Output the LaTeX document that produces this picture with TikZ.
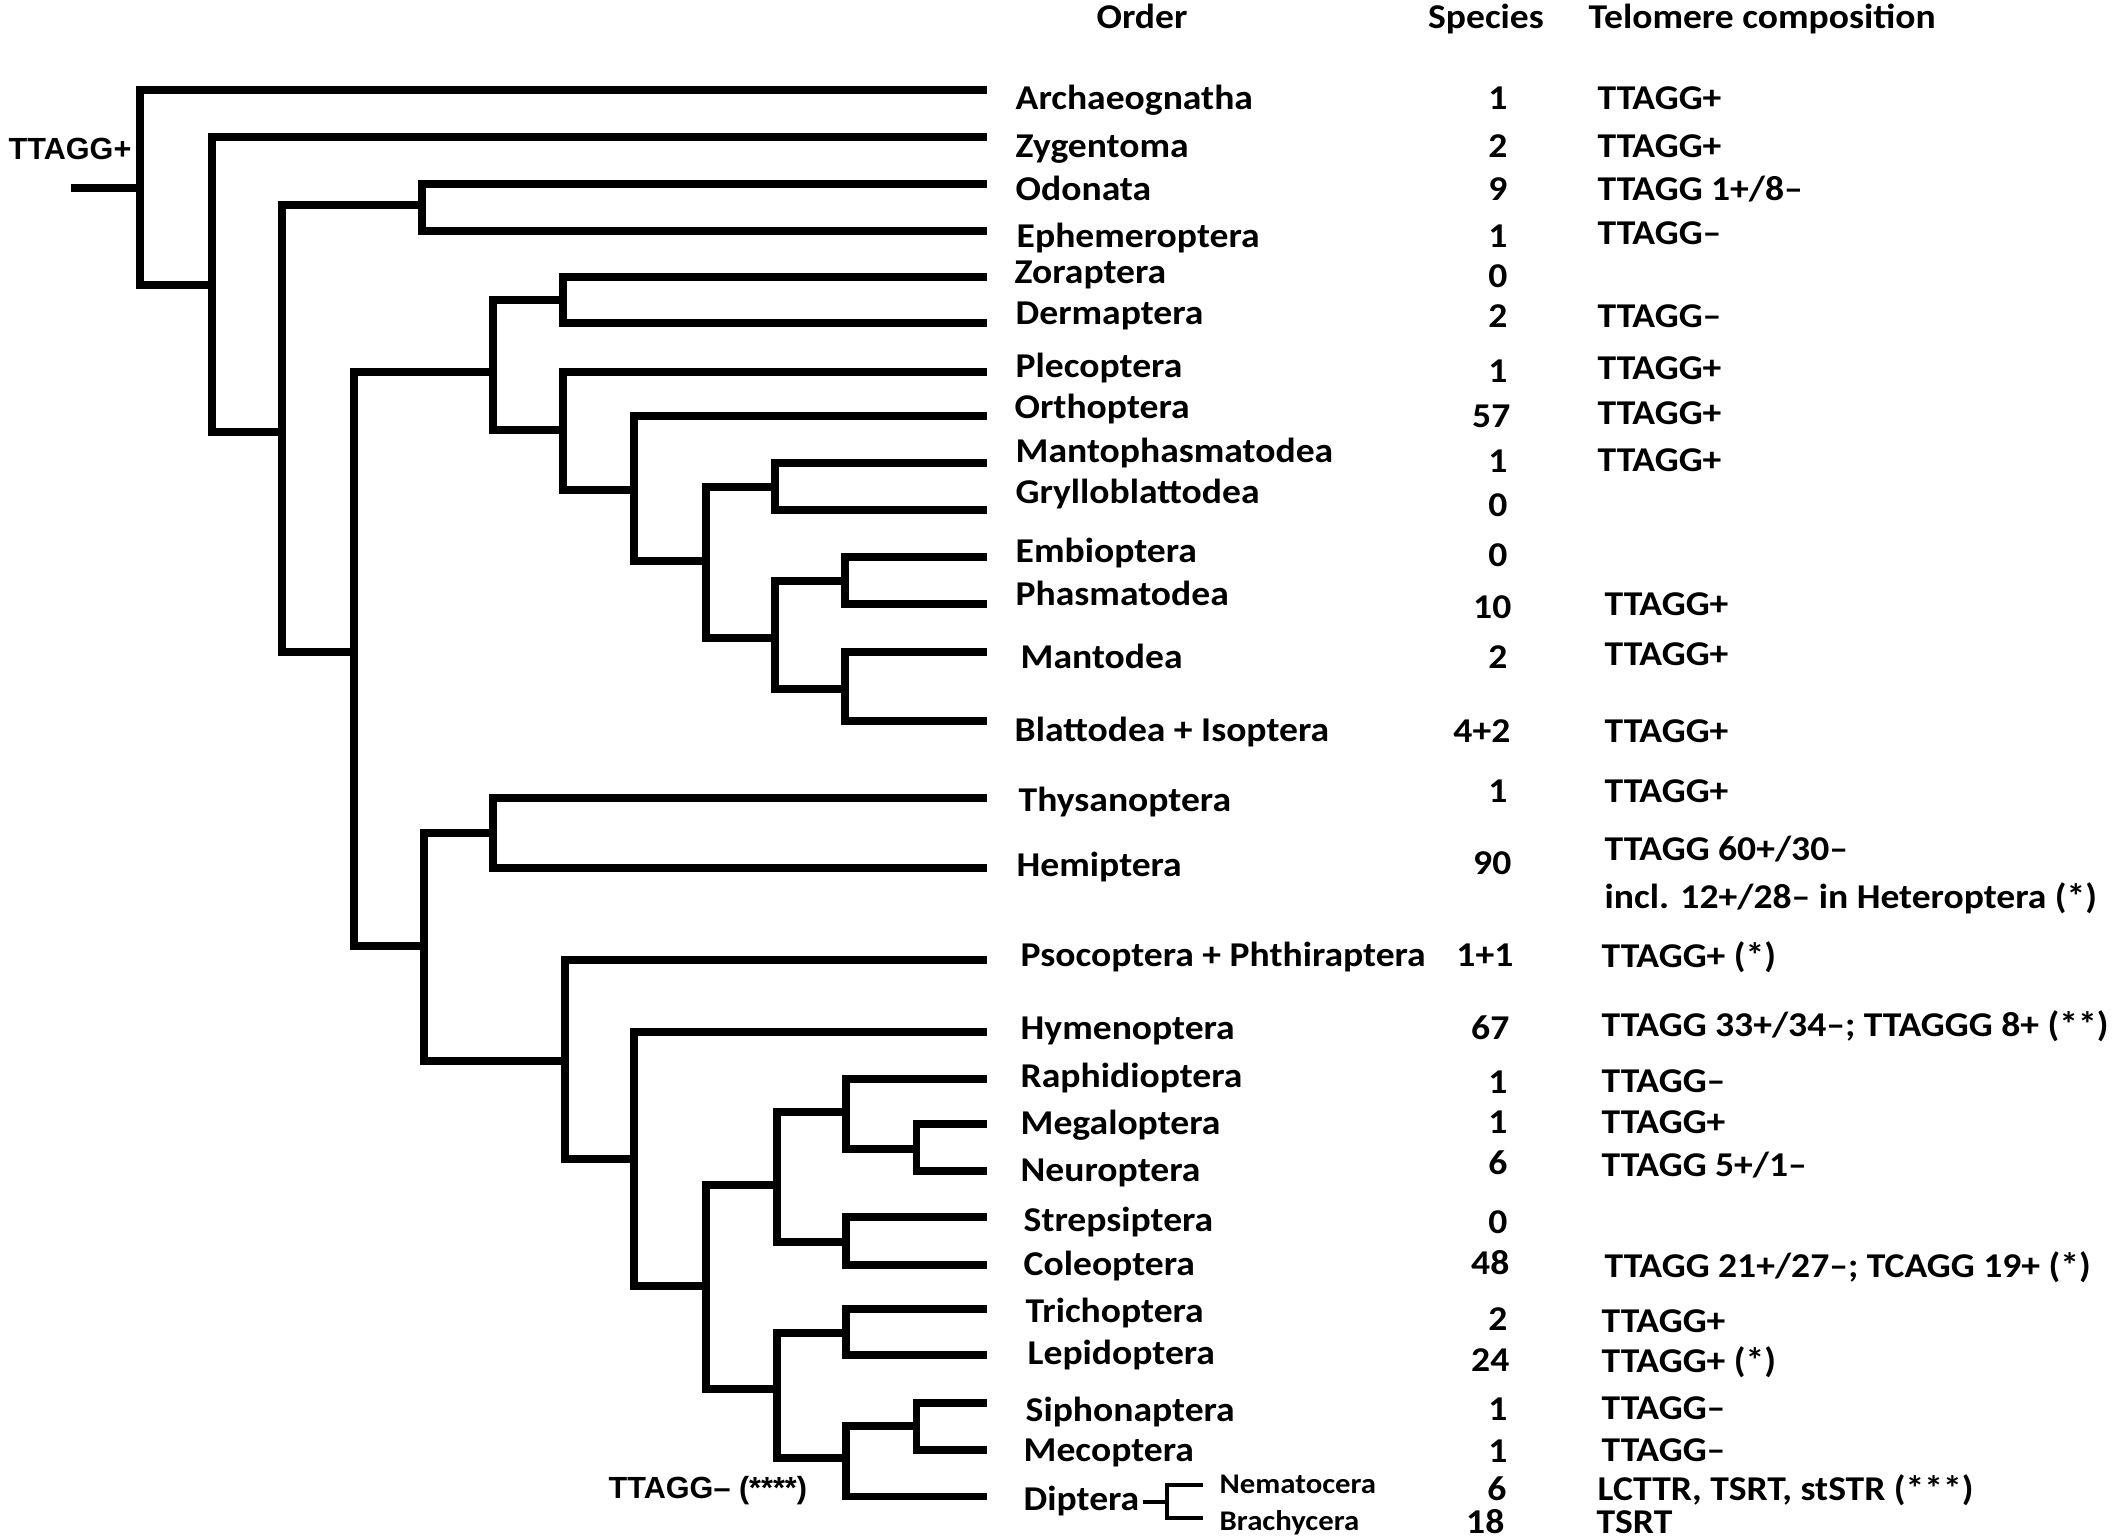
\documentclass[tikz,border=0pt]{standalone}
\usepackage{fontspec}
\setmainfont{Carlito}[FakeStretch=1.08]
\newfontfamily\statefont{Liberation Sans}
\usepackage{tikz}

\begin{document}
\begin{tikzpicture}[x=0.01cm, y=-0.01cm,
  branch/.style={line width=2pt},
  twig/.style={line width=1.2pt},
  taxon/.style={anchor=base west, inner sep=0pt, font=\fontsize{9.9}{12}\selectfont\bfseries},
  count/.style={anchor=base east, inner sep=0pt, font=\fontsize{9.9}{12}\selectfont\bfseries},
  telo/.style={anchor=base west, inner sep=0pt, font=\fontsize{9.9}{12}\selectfont\bfseries},
  colhead/.style={anchor=base, inner sep=0pt, font=\fontsize{9.9}{12}\selectfont\bfseries},
  subtaxon/.style={anchor=base west, inner sep=0pt, font=\fontsize{8.1}{10}\selectfont\bfseries},
  state/.style={anchor=base west, inner sep=0pt, font=\statefont\fontsize{8.7}{10}\selectfont\bfseries}]
\useasboundingbox (0,0) rectangle (2128,1540);

\coordinate (stub) at (71,188);
\coordinate (r) at (140,188);
\coordinate (n2) at (212,285);
\coordinate (n3) at (282,432);
\coordinate (odo) at (422,205);
\coordinate (n4) at (354,652);
\coordinate (n5) at (493,372);
\coordinate (zd) at (563,300);
\coordinate (n6) at (563,430);
\coordinate (n7) at (634,490);
\coordinate (n8) at (706,561);
\coordinate (mg) at (775,487);
\coordinate (n9) at (775,638);
\coordinate (ep) at (845,581);
\coordinate (mb) at (845,689);
\coordinate (n10) at (424,946);
\coordinate (th) at (493,833);
\coordinate (n11) at (565,1061);
\coordinate (n12) at (634,1159);
\coordinate (n13) at (706,1286);
\coordinate (n14) at (777,1185);
\coordinate (n15) at (777,1389);
\coordinate (rn) at (846,1112);
\coordinate (mn) at (916,1149);
\coordinate (sc) at (846,1242);
\coordinate (tl) at (846,1333);
\coordinate (smd) at (846,1458);
\coordinate (sm) at (916,1426);

\coordinate (tArc) at (987,90);
\coordinate (tZyg) at (987,137);
\coordinate (tOdo) at (987,184);
\coordinate (tEph) at (987,231);
\coordinate (tZor) at (987,277);
\coordinate (tDer) at (987,323);
\coordinate (tPle) at (987,372);
\coordinate (tOrt) at (987,416);
\coordinate (tMph) at (987,463);
\coordinate (tGry) at (987,510);
\coordinate (tEmb) at (987,557);
\coordinate (tPha) at (987,604);
\coordinate (tMan) at (987,652);
\coordinate (tBla) at (987,721);
\coordinate (tThy) at (987,798);
\coordinate (tHem) at (987,868);
\coordinate (tPso) at (987,960);
\coordinate (tHym) at (987,1032);
\coordinate (tRap) at (987,1079);
\coordinate (tMeg) at (987,1124);
\coordinate (tNeu) at (987,1171);
\coordinate (tStr) at (987,1217);
\coordinate (tCol) at (987,1265);
\coordinate (tTri) at (987,1309);
\coordinate (tLep) at (987,1355);
\coordinate (tSip) at (987,1403);
\coordinate (tMec) at (987,1450);
\coordinate (tDip) at (987,1496);

\draw[branch] (stub) -- (r);
\draw[branch] (r) |- (tArc); \draw[branch] (r) |- (n2);
\draw[branch] (n2) |- (tZyg); \draw[branch] (n2) |- (n3);
\draw[branch] (n3) |- (odo); \draw[branch] (n3) |- (n4);
\draw[branch] (odo) |- (tOdo); \draw[branch] (odo) |- (tEph);
\draw[branch] (n4) |- (n5); \draw[branch] (n4) |- (n10);
\draw[branch] (n5) |- (zd); \draw[branch] (n5) |- (n6);
\draw[branch] (zd) |- (tZor); \draw[branch] (zd) |- (tDer);
\draw[branch] (n6) |- (tPle); \draw[branch] (n6) |- (n7);
\draw[branch] (n7) |- (tOrt); \draw[branch] (n7) |- (n8);
\draw[branch] (n8) |- (mg); \draw[branch] (n8) |- (n9);
\draw[branch] (mg) |- (tMph); \draw[branch] (mg) |- (tGry);
\draw[branch] (n9) |- (ep); \draw[branch] (n9) |- (mb);
\draw[branch] (ep) |- (tEmb); \draw[branch] (ep) |- (tPha);
\draw[branch] (mb) |- (tMan); \draw[branch] (mb) |- (tBla);
\draw[branch] (n10) |- (th); \draw[branch] (n10) |- (n11);
\draw[branch] (th) |- (tThy); \draw[branch] (th) |- (tHem);
\draw[branch] (n11) |- (tPso); \draw[branch] (n11) |- (n12);
\draw[branch] (n12) |- (tHym); \draw[branch] (n12) |- (n13);
\draw[branch] (n13) |- (n14); \draw[branch] (n13) |- (n15);
\draw[branch] (n14) |- (rn); \draw[branch] (n14) |- (sc);
\draw[branch] (rn) |- (tRap); \draw[branch] (rn) |- (mn);
\draw[branch] (mn) |- (tMeg); \draw[branch] (mn) |- (tNeu);
\draw[branch] (sc) |- (tStr); \draw[branch] (sc) |- (tCol);
\draw[branch] (n15) |- (tl); \draw[branch] (n15) |- (smd);
\draw[branch] (tl) |- (tTri); \draw[branch] (tl) |- (tLep);
\draw[branch] (smd) |- (sm); \draw[branch] (smd) |- (tDip);
\draw[branch] (sm) |- (tSip); \draw[branch] (sm) |- (tMec);

\node[state] (rootstate) at (8,160) {TTAGG+};
\node[state] (dipstate) at (608,1498) {TTAGG– (****)};

\node[colhead] (hOrder) at (1142,29) {Order};
\node[colhead] (hSpecies) at (1486,29) {Species};
\node[colhead, anchor=base west] (hTelo) at (1588,29) {Telomere composition};

\node[taxon] (Arc) at (1015,110) {Archaeognatha};
\node[taxon] (Zyg) at (1015,158) {Zygentoma};
\node[taxon] (Odo) at (1015,201) {Odonata};
\node[taxon] (Eph) at (1016,248) {Ephemeroptera};
\node[taxon] (Zor) at (1014,284) {Zoraptera};
\node[taxon] (Der) at (1015,325) {Dermaptera};
\node[taxon] (Ple) at (1015,378) {Plecoptera};
\node[taxon] (Ort) at (1014,419) {Orthoptera};
\node[taxon] (Mph) at (1015,463) {Mantophasmatodea};
\node[taxon] (Gry) at (1015,504) {Grylloblattodea};
\node[taxon] (Emb) at (1015,563) {Embioptera};
\node[taxon] (Pha) at (1015,606) {Phasmatodea};
\node[taxon] (Man) at (1020,668) {Mantodea};
\node[taxon] (Bla) at (1014,741) {Blattodea + Isoptera};
\node[taxon] (Thy) at (1018,811) {Thysanoptera};
\node[taxon] (Hem) at (1016,876) {Hemiptera};
\node[taxon] (Pso) at (1020,966) {Psocoptera + Phthiraptera};
\node[taxon] (Hym) at (1020,1039) {Hymenoptera};
\node[taxon] (Rap) at (1020,1087) {Raphidioptera};
\node[taxon] (Meg) at (1020,1134) {Megaloptera};
\node[taxon] (Neu) at (1020,1181) {Neuroptera};
\node[taxon] (Str) at (1023,1231) {Strepsiptera};
\node[taxon] (Col) at (1023,1275) {Coleoptera};
\node[taxon] (Tri) at (1025,1322) {Trichoptera};
\node[taxon] (Lep) at (1027,1364) {Lepidoptera};
\node[taxon] (Sip) at (1025,1421) {Siphonaptera};
\node[taxon] (Mec) at (1023,1461) {Mecoptera};
\node[taxon] (Dip) at (1023,1510) {Diptera};
\node[subtaxon] (Nem) at (1219,1493) {Nematocera};
\node[subtaxon] (Bra) at (1219,1530) {Brachycera};

\coordinate (dfork) at (1167,1502);
\coordinate (tNem) at (1203,1485);
\coordinate (tBra) at (1203,1518);
\draw[twig] ([xshift=0.03cm]Dip.east |- dfork) -- (dfork);
\draw[twig] (dfork) |- (tNem);
\draw[twig] (dfork) |- (tBra);

\node[count] (cArc) at (1508,110) {1};
\node[count] (cZyg) at (1508,158) {2};
\node[count] (cOdo) at (1508,201) {9};
\node[count] (cEph) at (1508,248) {1};
\node[count] (cZor) at (1508,288) {0};
\node[count] (cDer) at (1508,328) {2};
\node[count] (cPle) at (1508,383) {1};
\node[count] (cOrt) at (1511,428) {57};
\node[count] (cMph) at (1508,473) {1};
\node[count] (cGry) at (1508,517) {0};
\node[count] (cEmb) at (1508,567) {0};
\node[count] (cPha) at (1512,618) {10};
\node[count] (cMan) at (1508,668) {2};
\node[count] (cBla) at (1511,742) {4+2};
\node[count] (cThy) at (1508,802) {1};
\node[count] (cHem) at (1512,874) {90};
\node[count] (cPso) at (1514,966) {1+1};
\node[count] (cHym) at (1510,1039) {67};
\node[count] (cRap) at (1508,1093) {1};
\node[count] (cMeg) at (1508,1133) {1};
\node[count] (cNeu) at (1508,1174) {6};
\node[count] (cStr) at (1508,1233) {0};
\node[count] (cCol) at (1510,1274) {48};
\node[count] (cTri) at (1508,1330) {2};
\node[count] (cLep) at (1510,1371) {24};
\node[count] (cSip) at (1508,1420) {1};
\node[count] (cMec) at (1508,1462) {1};
\node[count] (cNem) at (1507,1500) {6};
\node[count] (cBra) at (1505,1533) {18};

\node[telo] (sArc) at (1597,110) {TTAGG+};
\node[telo] (sZyg) at (1597,158) {TTAGG+};
\node[telo] (sOdo) at (1597,201) {TTAGG 1+/8–};
\node[telo] (sEph) at (1597,245) {TTAGG–};
\node[telo] (sDer) at (1597,328) {TTAGG–};
\node[telo] (sPle) at (1597,380) {TTAGG+};
\node[telo] (sOrt) at (1597,425) {TTAGG+};
\node[telo] (sMph) at (1597,472) {TTAGG+};
\node[telo] (sPha) at (1604,616) {TTAGG+};
\node[telo] (sMan) at (1604,665) {TTAGG+};
\node[telo] (sBla) at (1604,742) {TTAGG+};
\node[telo] (sThy) at (1604,802) {TTAGG+};
\node[telo] (sHem) at (1604,860) {TTAGG 60+/30–};
\node[telo] (sHet) at (1604,908) {incl. 12+/28– in Heteroptera (*)};
\node[telo] (sPso) at (1601,967) {TTAGG+ (*)};
\node[telo] (sHym) at (1601,1036) {TTAGG 33+/34–; TTAGGG 8+ (**)};
\node[telo] (sRap) at (1601,1092) {TTAGG–};
\node[telo] (sMeg) at (1601,1133) {TTAGG+};
\node[telo] (sNeu) at (1601,1176) {TTAGG 5+/1–};
\node[telo] (sCol) at (1604,1277) {TTAGG 21+/27–; TCAGG 19+ (*)};
\node[telo] (sTri) at (1601,1332) {TTAGG+};
\node[telo] (sLep) at (1601,1372) {TTAGG+ (*)};
\node[telo] (sSip) at (1601,1419) {TTAGG–};
\node[telo] (sMec) at (1601,1461) {TTAGG–};
\node[telo] (sNem) at (1597,1500) {LCTTR, TSRT, stSTR (***)};
\node[telo] (sBra) at (1596,1533) {TSRT};
\end{tikzpicture}
\end{document}
